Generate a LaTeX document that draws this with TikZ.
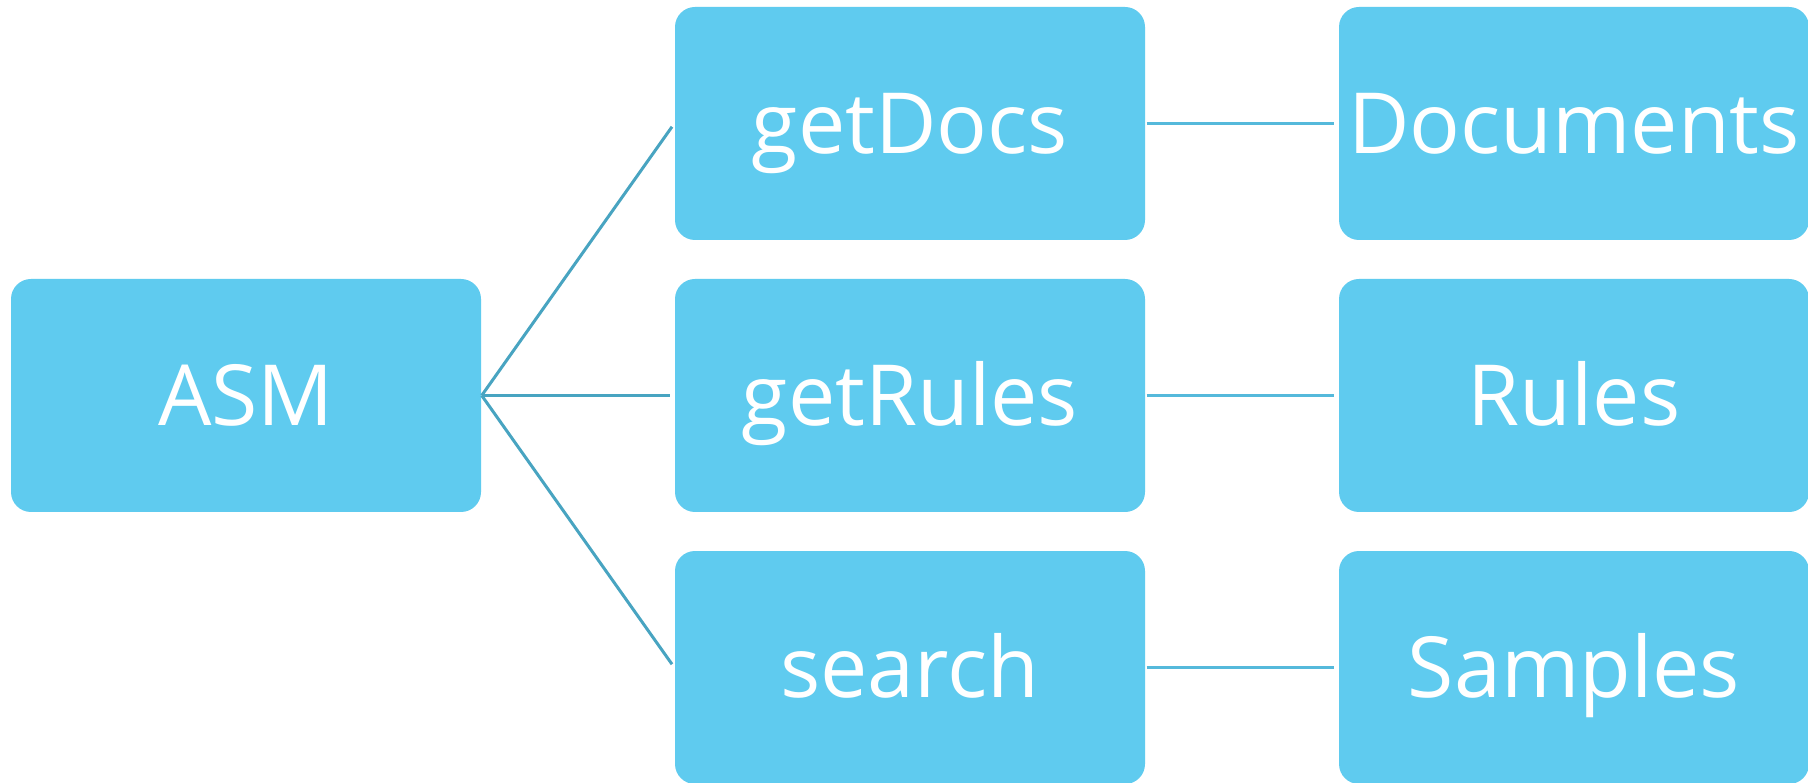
\documentclass[tikz,border=0pt]{standalone}
\usepackage{fontspec}
\setmainfont{Open Sans}

\definecolor{boxblue}{HTML}{5FCBEF}
\definecolor{linkteal}{HTML}{48A4C1}
\definecolor{linkblue}{HTML}{55B9DB}

\tikzstyle{box}=[rectangle,rounded corners=0.2cm,fill=boxblue,text=white,minimum width=4.7cm,minimum height=2.33cm,inner sep=0pt,font=\fontsize{24}{28}\selectfont,text height=0.6cm,text depth=0pt]
\tikzstyle{link} = [draw,line width=0.03cm,linkteal,shorten >=0.04cm]
\tikzstyle{result link} = [draw,line width=0.03cm,linkblue,shorten <=0.01cm,shorten >=0.04cm]

\begin{document}
\begin{tikzpicture}
			\fill[white] (0,0) rectangle (18.08,-7.83);
			\useasboundingbox (0,0) rectangle (18.08,-7.83);
			\node[box] (asm) at (2.46,-3.955) {ASM};
			\node[box] (getdocs) at (9.10,-1.235) {getDocs};
			\node[box] (getrules) at (9.10,-3.955) {getRules};
			\node[box] (search) at (9.10,-6.675) {search};
			\node[box] (docs) at (15.74,-1.235) {Documents};
			\node[box] (rules) at (15.74,-3.955) {Rules};
			\node[box] (samples) at (15.74,-6.675) {Samples};
			% ASM to its calls
			\foreach \source/ \dest in {asm/getdocs, asm/getrules, asm/search}
			\path[link] (\source.east) to (\dest.west);
			% calls to what they return
			\foreach \source/ \dest in {getdocs/docs, getrules/rules, search/samples}
			\path[result link] (\source.east) to (\dest.west);
\end{tikzpicture}
\end{document}
